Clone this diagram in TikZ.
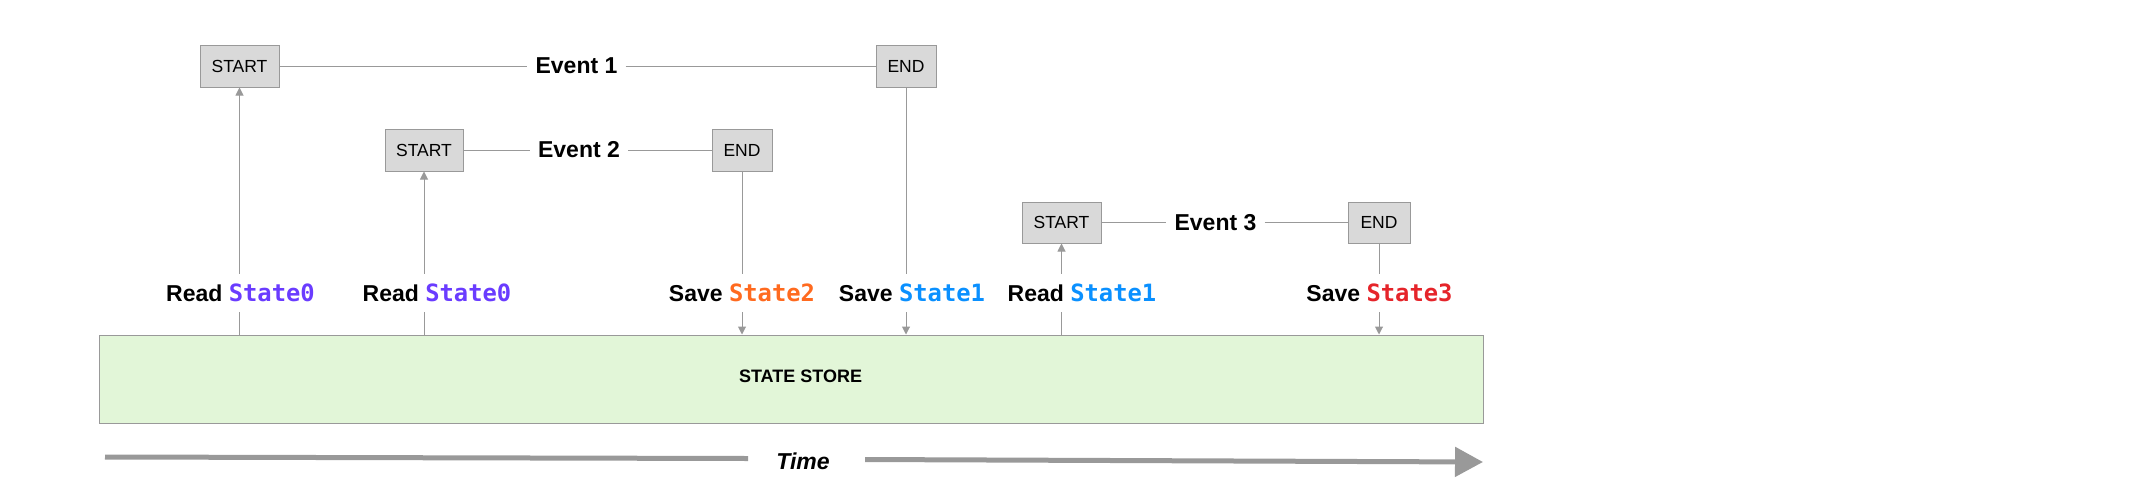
\documentclass[tikz,border=0pt]{standalone}
\usepackage{fontspec}
\setmainfont{Liberation Sans}
\newfontfamily\monof{DejaVu Sans Mono}
\usetikzlibrary{arrows.meta}
\definecolor{linegray}{HTML}{999999}
\definecolor{boxgray}{HTML}{D9D9D9}
\definecolor{storegreen}{HTML}{E2F6D8}
\definecolor{cPurple}{HTML}{6A3CFF}
\definecolor{cOrange}{HTML}{FF6A1F}
\definecolor{cBlue}{HTML}{0A90FF}
\definecolor{cRed}{HTML}{E5242A}
\newcommand\stname[2]{{\monof\fontsize{23.8}{26}\selectfont\color{#1}#2}}
\begin{document}
\begin{tikzpicture}[x=1pt,y=-1pt,
  evbox/.style={draw=linegray, fill=boxgray, line width=1pt, inner sep=0pt, minimum height=42pt, font=\fontsize{17.5}{20}\selectfont},
  evlabel/.style={inner xsep=8pt, inner ysep=0pt, font=\bfseries\fontsize{23}{26}\selectfont},
  stlabel/.style={inner xsep=0pt, inner ysep=0pt, minimum height=38pt, font=\bfseries\fontsize{23}{26}\selectfont},
  conn/.style={draw=linegray, line width=1pt},
  arr/.style={conn, -{Triangle[width=8pt,length=8pt]}},
  timeline/.style={draw=linegray, line width=5pt}
]
\useasboundingbox (0,0) rectangle (2150,488);

% state store
\node[draw=linegray, fill=storegreen, line width=1pt, minimum width=1384pt, minimum height=88pt, inner sep=0pt] (store) at (791,379) {};
\node[font=\bfseries\fontsize{18}{20}\selectfont, inner sep=0pt] (storetxt) at (800.5,376.5) {STATE STORE};

% event 1
\node[evbox, minimum width=79pt] (s1) at (239.5,66) {START};
\node[evbox, minimum width=60pt] (e1) at (906,66) {END};
\node[evlabel] (ev1) at (576.5,66) {Event 1};
\draw[conn] (s1.east) -- (ev1.west);
\draw[conn] (ev1.east) -- (e1.west);

% event 2
\node[evbox, minimum width=78pt] (s2) at (424,150) {START};
\node[evbox, minimum width=60pt] (e2) at (742,150) {END};
\node[evlabel] (ev2) at (579,150) {Event 2};
\draw[conn] (s2.east) -- (ev2.west);
\draw[conn] (ev2.east) -- (e2.west);

% event 3
\node[evbox, minimum width=79pt, minimum height=41pt] (s3) at (1061.5,222.5) {START};
\node[evbox, minimum width=62pt, minimum height=41pt] (e3) at (1379,222.5) {END};
\node[evlabel] (ev3) at (1215.5,222.5) {Event 3};
\draw[conn] (s3.east) -- (ev3.west);
\draw[conn] (ev3.east) -- (e3.west);

% read / save labels
\node[stlabel] (r1) at (240.5,293) {Read \stname{cPurple}{State0}};
\node[stlabel] (r2) at (437,293) {Read \stname{cPurple}{State0}};
\node[stlabel] (sv2) at (742,293) {Save \stname{cOrange}{State2}};
\node[stlabel] (sv1) at (912,293) {Save \stname{cBlue}{State1}};
\node[stlabel] (r3) at (1082,293) {Read \stname{cBlue}{State1}};
\node[stlabel] (sv3) at (1379.5,293) {Save \stname{cRed}{State3}};

% reads
\draw[conn] (store.north -| s1.south) -- (r1.south -| s1.south);
\draw[arr] (r1.north -| s1.south) -- (s1.south);
\draw[conn] (store.north -| s2.south) -- (r2.south -| s2.south);
\draw[arr] (r2.north -| s2.south) -- (s2.south);
\draw[conn] (store.north -| s3.south) -- (r3.south -| s3.south);
\draw[arr] (r3.north -| s3.south) -- (s3.south);

% saves
\draw[conn] (e2.south) -- (sv2.north -| e2.south);
\draw[arr] (sv2.south -| e2.south) -- (store.north -| e2.south);
\draw[conn] (e1.south) -- (sv1.north -| e1.south);
\draw[arr] (sv1.south -| e1.south) -- (store.north -| e1.south);
\draw[conn] (e3.south) -- (sv3.north -| e3.south);
\draw[arr] (sv3.south -| e3.south) -- (store.north -| e3.south);

% time arrow
\node[font=\bfseries\itshape\fontsize{23}{26}\selectfont, inner sep=0pt] (time) at (803,461) {Time};
\coordinate (tl) at (105,457);
\coordinate (tm1) at (748,458.5);
\coordinate (tm2) at (865,459.5);
\coordinate (tr) at (1483,462);
\draw[timeline] (tl) -- (tm1);
\draw[timeline, -{Triangle[width=29pt,length=28pt]}] (tm2) -- (tr);
\end{tikzpicture}
\end{document}
